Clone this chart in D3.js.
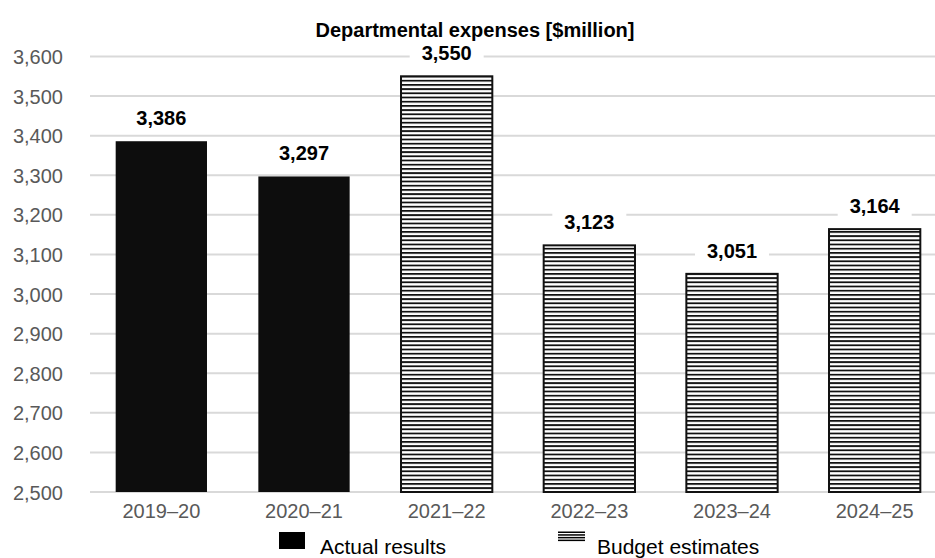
<!DOCTYPE html>
<html><head><meta charset="utf-8">
<script src="https://cdn.jsdelivr.net/npm/d3@7"></script>
<style>body{margin:0;background:#fff;} svg{display:block;font-family:"Liberation Sans",Arial,sans-serif;}</style>
</head><body>
<svg id="c" width="935" height="558"></svg>
<script>
const categories = ["2019–20","2020–21","2021–22","2022–23","2023–24","2024–25"];
const values = [3386,3297,3550,3123,3051,3164];
const types = ["actual","actual","budget","budget","budget","budget"];
const yTicks = [2500,2600,2700,2800,2900,3000,3100,3200,3300,3400,3500,3600];
const title = "Departmental expenses [$million]";
const legendItems = [{key:"actual",label:"Actual results"},{key:"budget",label:"Budget estimates"}];

const FONT = "Liberation Sans, Arial, sans-serif";
const svg = d3.select("#c");
const defs = svg.append("defs");
const pat = defs.append("pattern").attr("id","hstripe").attr("patternUnits","userSpaceOnUse")
  .attr("width",8).attr("height",4.2);
pat.append("rect").attr("width",8).attr("height",4.2).attr("fill","#fff");
pat.append("rect").attr("y",0).attr("width",8).attr("height",1.8).attr("fill","#111");

const x = d3.scaleBand().domain(categories).range([90,946]).paddingInner(0.36).paddingOuter(0.18);
const y = d3.scaleLinear().domain([2500,3600]).range([492,56.5]);

// gridlines
svg.append("g").selectAll("line").data(yTicks).join("line")
  .attr("x1",90).attr("x2",935).attr("y1",d=>y(d)).attr("y2",d=>y(d))
  .attr("stroke","#d9d9d9").attr("stroke-width",2);

// y axis labels
const yAxis = d3.axisLeft(y).tickValues(yTicks).tickFormat(d3.format(",")).tickSize(0).tickPadding(0);
const yg = svg.append("g").attr("transform","translate(63,0)").call(yAxis);
yg.select(".domain").remove();
yg.selectAll("text").attr("font-size",20).attr("fill","#595959").attr("font-family",FONT).attr("dy","0.35em");

// bars
svg.append("g").selectAll("rect").data(categories).join("rect")
  .attr("x",d=>x(d)).attr("width",x.bandwidth())
  .attr("y",(d,i)=>y(values[i])).attr("height",(d,i)=>y(2500)-y(values[i]))
  .attr("fill",(d,i)=>types[i]==="actual"?"#0d0d0d":"url(#hstripe)")
  .attr("stroke",(d,i)=>types[i]==="actual"?"none":"#111").attr("stroke-width",2);

// x axis labels
const xAxis = d3.axisBottom(x).tickSize(0).tickPadding(0);
const xg = svg.append("g").attr("transform","translate(0,0)").call(xAxis);
xg.select(".domain").remove();
xg.selectAll("text").attr("font-size",20).attr("fill","#595959").attr("font-family",FONT).attr("dy",null).attr("y",518);

// data labels with white box
const lg = svg.append("g");
categories.forEach((c,i)=>{
  const cx = x(c)+x.bandwidth()/2, base = y(values[i])-16;
  lg.append("rect").attr("x",cx-37).attr("y",base-22).attr("width",74).attr("height",30).attr("fill","#fff");
  lg.append("text").attr("x",cx).attr("y",base).attr("text-anchor","middle").attr("font-family",FONT)
    .attr("font-size",20).attr("font-weight","bold").attr("fill","#000").text(d3.format(",")(values[i]));
});

// title
svg.append("text").attr("x",475).attr("y",37).attr("text-anchor","middle").attr("font-family",FONT)
  .attr("font-size",20).attr("font-weight","bold").attr("fill","#000").text(title);

// legend
const leg = svg.append("g");
leg.append("rect").attr("x",279).attr("y",532).attr("width",26).attr("height",17).attr("fill","#000");
leg.append("text").attr("x",320).attr("y",554).attr("font-family",FONT).attr("font-size",21).attr("fill","#000").text(legendItems[0].label);
[0,1,2,3].forEach(k=>{
  leg.append("rect").attr("x",558).attr("y",531.5+k*2.7).attr("width",27).attr("height",1.5).attr("fill","#000");
});
leg.append("text").attr("x",597).attr("y",554).attr("font-family",FONT).attr("font-size",21).attr("fill","#000").text(legendItems[1].label);
</script>
</body></html>
